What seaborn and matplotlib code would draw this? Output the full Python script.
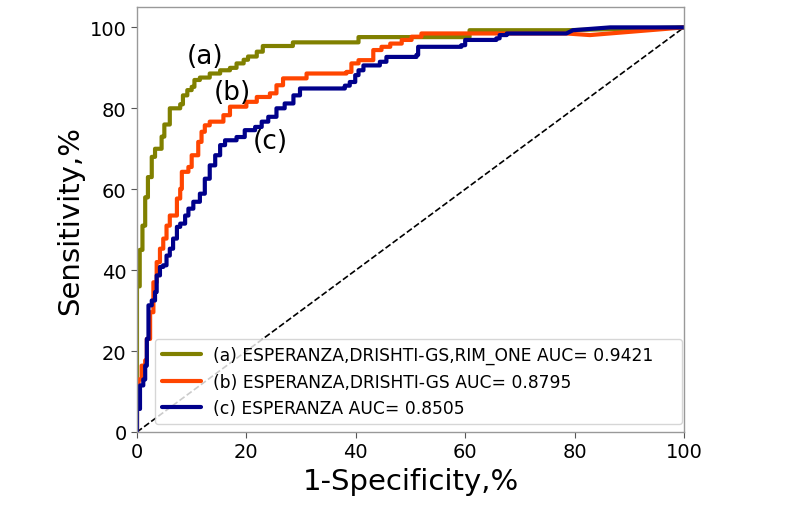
import pandas as pd
import seaborn as sns
import matplotlib.pyplot as plt

# ROC step curves: FPR where TPR jumps, and the TPR level after the jump (in %)
fpr_a = [0, 0.5, 1.0, 1.5, 2.0, 2.7, 3.3, 4.5, 5.0, 6.0, 7.9, 8.4, 9.2, 10.0, 10.5,
         11.5, 13.3, 15.2, 17.0, 18.2, 19.5, 20.3, 21.9, 23.0, 28.5, 40.5, 60.8, 78.5]
tpr_a = [36, 45, 51, 58, 63, 68, 70, 73, 76, 80, 81, 83.2, 84.5, 85.3, 87,
         87.6, 88.6, 89.4, 90, 91.1, 92, 92.8, 94, 95.4, 96.3, 97.6, 99.3, 99.3]
tail_fpr_a = [100]
tail_tpr_a = [100]

fpr_b = [0, 0.3, 0.85, 1.5, 1.8, 2.4, 3.0, 3.6, 4.2, 4.8, 5.4, 6.0, 7.3, 7.9, 8.2,
         9.4, 10.0, 11.2, 11.8, 12.4, 13.3, 15.8, 17.0, 20.0, 21.9, 24.3, 25.5, 26.7,
         31.0, 38.3, 39.2, 40.5, 43.2, 44.7, 46.3, 48.4, 50.2, 52.0, 78.5]
tpr_b = [10, 13, 16.4, 17.7, 23, 29.6, 37, 42, 45.3, 47.8, 51, 53.5, 57.7, 60.1, 64.3,
         65.5, 68.4, 71.7, 74.2, 75.8, 76.7, 78.3, 80.4, 81.6, 82.8, 83.7, 85.7, 87.4,
         88.6, 89, 91.1, 91.9, 94.4, 95.2, 96, 96.9, 97.7, 98.5, 98.5]
tail_fpr_b = [82.8, 100]
tail_tpr_b = [98.1, 100]

fpr_c = [0, 0.55, 1.15, 1.5, 1.8, 2.1, 2.7, 3.3, 3.6, 4.2, 4.8, 5.4, 6.0, 6.6, 7.3,
         7.9, 8.8, 9.4, 10.3, 11.5, 12.4, 13.3, 14.3, 15.2, 16.1, 18.2, 19.7, 21.6,
         22.8, 24.0, 25.5, 27.0, 28.6, 29.8, 38.0, 38.9, 39.9, 40.5, 41.4, 44.4, 45.6,
         51.1, 51.4, 59.3, 60.0, 65.7, 66.3, 67.6, 78.5]
tpr_c = [5.7, 11.5, 13, 16.4, 23, 31.3, 32.5, 34.6, 38.7, 40.8, 41.2, 43.6, 45.3, 47.8, 50.7,
         51.5, 53.5, 55.2, 56.9, 58.9, 62.6, 65.9, 68.4, 70.9, 72.1, 72.9, 74.6, 75.4,
         76.7, 77.9, 80, 81.2, 83.2, 84.9, 85.6, 86.5, 88.2, 89.4, 90.6, 91.5, 92.7,
         93.2, 95.2, 95.6, 96.9, 97.3, 98.1, 98.5, 98.5]
tail_fpr_c = [79.7, 86.5, 100]
tail_tpr_c = [99.3, 100, 100]

labels = ["(a) ESPERANZA,DRISHTI-GS,RIM_ONE AUC= 0.9421",
          "(b) ESPERANZA,DRISHTI-GS AUC= 0.8795",
          "(c) ESPERANZA AUC= 0.8505"]
colors = ["#808000", "#ff4500", "#00008b"]


def staircase(fpr, tpr, tail_fpr, tail_tpr):
    xs, ys = [0], [0]
    for x, y in zip(fpr, tpr):
        xs += [x, x]
        ys += [ys[-1], y]
    return xs + tail_fpr, ys + tail_tpr


frames = []
for lab, f, t, tf, tt in [(labels[0], fpr_a, tpr_a, tail_fpr_a, tail_tpr_a),
                          (labels[1], fpr_b, tpr_b, tail_fpr_b, tail_tpr_b),
                          (labels[2], fpr_c, tpr_c, tail_fpr_c, tail_tpr_c)]:
    xs, ys = staircase(f, t, tf, tt)
    frames.append(pd.DataFrame({"fpr": xs, "tpr": ys, "curve": lab}))
df = pd.concat(frames, ignore_index=True)

sns.set_style("ticks")
plt.rcParams["font.family"] = "DejaVu Sans"
plt.rcParams.update({"text.color": "black", "axes.labelcolor": "black",
                     "xtick.color": "black", "ytick.color": "black"})

fig = plt.figure(figsize=(7.9, 5.1), dpi=100)
ax = fig.add_axes([0.1734, 0.151, 0.6924, 0.833])

# chance line
ax.plot([0, 100], [0, 100], color="black", linestyle="--", linewidth=1.2)
sns.lineplot(data=df, x="fpr", y="tpr", hue="curve", palette=colors,
             sort=False, estimator=None, linewidth=3, ax=ax)

ax.set_xlim(0, 100)
ax.set_ylim(0, 105)
ax.set_xticks([0, 20, 40, 60, 80, 100])
ax.set_yticks([0, 20, 40, 60, 80, 100])
ax.tick_params(labelsize=14, length=4, width=0.8, color="#555555")
for s in ax.spines.values():
    s.set_color("#999999")
    s.set_linewidth(1.0)

ax.set_xlabel("1-Specificity,%", fontsize=21)
ax.set_ylabel("Sensitivity,%", fontsize=21)

ax.text(12.4, 93, "(a)", fontsize=19, ha="center", va="center")
ax.text(17.5, 84, "(b)", fontsize=19, ha="center", va="center")
ax.text(24.3, 72, "(c)", fontsize=19, ha="center", va="center")

ax.legend(loc="lower left", bbox_to_anchor=(0.033, 0.0188, 0.9633, 0.198),
          mode="expand", borderaxespad=0, fontsize=12.3, handlelength=2.3,
          handletextpad=0.7, title=None, framealpha=0.8)

plt.savefig("out.png", dpi=100)
